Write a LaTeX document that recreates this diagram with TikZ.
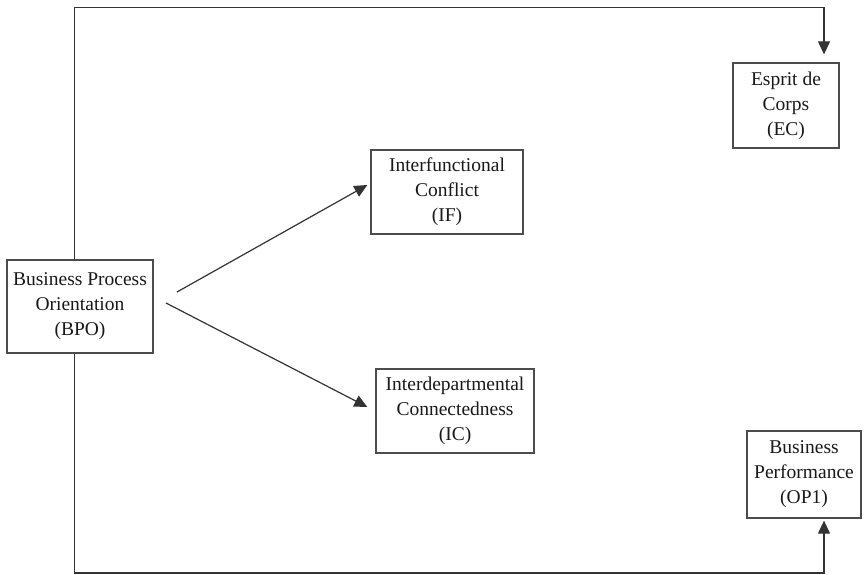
\documentclass[tikz,border=0pt]{standalone}
\usepackage{fontspec}
\setmainfont{Liberation Serif}
\usetikzlibrary{arrows.meta}
\begin{document}
\begin{tikzpicture}[x=1pt,y=-1pt,
  boxnode/.style={draw=black!70, line width=1.3pt, fill=white, align=center, inner sep=0pt,
    font=\fontsize{19.5}{25}\selectfont, text=black!90},
  link/.style={draw=black!80, line width=1.2pt, -{Triangle[length=13pt,width=12pt]}}]
\useasboundingbox (0,0) rectangle (864,575);
\fill[white] (0,0) rectangle (864,575);
\node[boxnode, minimum width=146pt, minimum height=93pt] (BPO) at (80,306.5) {Business Process\\Orientation\\(BPO)};
\node[boxnode, minimum width=152pt, minimum height=84pt] (IF) at (447,192) {Interfunctional\\Conflict\\(IF)};
\node[boxnode, minimum width=158pt, minimum height=84pt] (IC) at (455,411) {Interdepartmental\\Connectedness\\(IC)};
\node[boxnode, minimum width=106pt, minimum height=85pt] (EC) at (786,105.5) {Esprit de\\Corps\\(EC)};
\node[boxnode, minimum width=114pt, minimum height=87pt] (OP) at (804,474.5) {Business\\Performance\\(OP1)};
\coordinate (tl) at (74.5,7.5);
\coordinate (tr) at (824,7.5);
\coordinate (bl) at (74.5,573);
\coordinate (br) at (824,573);
\coordinate (s1) at (177,292);
\coordinate (s2) at (166,303);
\draw[link, shorten >=8pt] (BPO.north -| tl) -- (tl) -- (tr) -- (EC.north -| tr);
\draw[link, shorten >=2pt] (BPO.south -| bl) -- (bl) -- (br) -- (OP.south -| br);
\draw[link] (s1) -- ([xshift=-3pt,yshift=7pt]IF.west);
\draw[link] (s2) -- ([xshift=-8pt,yshift=4pt]IC.west);
\end{tikzpicture}
\end{document}
